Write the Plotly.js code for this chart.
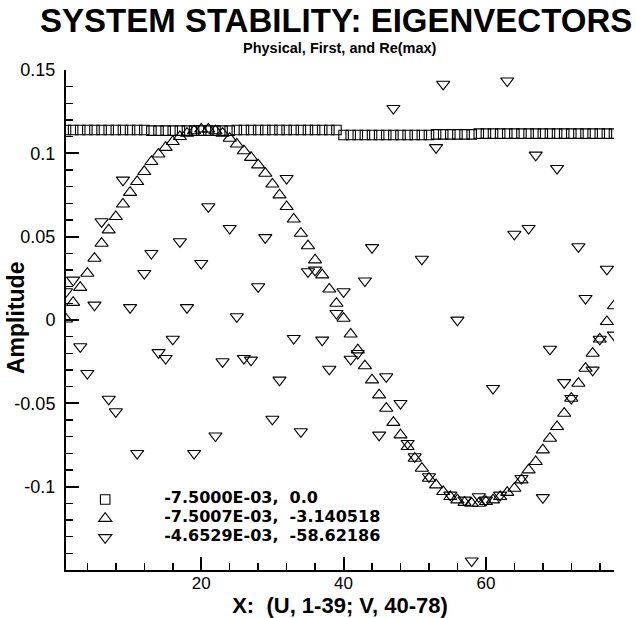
<!DOCTYPE html>
<html>
<head>
<meta charset="utf-8">
<script src="https://cdn.plot.ly/plotly-3.0.1.min.js"></script>
<style>html,body{margin:0;padding:0;background:#fff;}</style>
</head>
<body>
<div id="chart" style="width:636px;height:618px;"></div>
<script>
// X positions (U: 1-39, V: 40-78)
const xIndex = [1,2,3,4,5,6,7,8,9,10,11,12,13,14,15,16,17,18,19,20,21,22,23,24,25,26,27,28,29,30,31,32,33,34,35,36,37,38,39,
                40,41,42,43,44,45,46,47,48,49,50,51,52,53,54,55,56,57,58,59,60,61,62,63,64,65,66,67,68,69,70,71,72,73,74,75,76,77,78];

// Series 1: squares ("-7.5000E-03,  0.0")
const physical = [0.1140,0.1140,0.1140,0.1140,0.1140,0.1140,0.1140,0.1140,0.1140,0.1140,0.1140,0.1140,
                  0.1136,0.1136,0.1136,0.1136,0.1136,0.1136,0.1136,0.1136,0.1136,0.1136,0.1136,0.1136,
                  0.1140,0.1140,0.1140,0.1140,0.1140,0.1140,0.1140,0.1140,0.1140,0.1140,0.1140,0.1140,0.1140,0.1140,0.1140,
                  0.1110,0.1110,0.1110,0.1110,0.1110,0.1110,0.1110,0.1110,0.1110,0.1110,0.1110,0.1110,0.1110,
                  0.1114,0.1114,0.1114,0.1114,0.1114,0.1114,
                  0.1118,0.1118,0.1118,0.1118,0.1118,0.1118,0.1118,0.1118,0.1118,0.1118,0.1118,0.1118,0.1118,0.1118,0.1118,0.1118,0.1118,0.1118,0.1118,0.1118];

// Series 2: up triangles ("-7.5007E-03,  -3.140518")
const first = [0.0005,0.0105,0.0195,0.028,0.037,0.046,0.054,0.062,0.0695,0.0765,
               0.083,0.089,0.095,0.0995,0.1035,0.107,0.110,0.112,0.1135,0.1145,
               0.1145,0.1135,0.112,0.109,0.1055,0.1015,0.0975,0.093,0.088,0.0815,
               0.075,0.068,0.0605,0.052,0.0445,0.036,0.027,0.0185,0.010,0.001,
               -0.0085,-0.018,-0.0275,-0.036,-0.045,-0.053,-0.0615,-0.069,-0.076,-0.083,
               -0.089,-0.095,-0.099,-0.103,-0.106,-0.108,-0.1095,-0.110,-0.110,-0.109,
               -0.108,-0.106,-0.1035,-0.101,-0.096,-0.090,-0.085,-0.078,-0.071,-0.064,
               -0.056,-0.047,-0.038,-0.029,-0.020,-0.0115,-0.001,0.0085];

// Series 3: down triangles ("-4.6529E-03,  -58.62186")
const reMax = [0.017,0.024,-0.016,-0.032,0.009,0.059,-0.0475,-0.055,0.084,0.0075,
               -0.080,0.028,0.040,-0.0195,-0.023,-0.0115,0.047,0.0075,-0.080,0.034,
               0.068,-0.0695,-0.025,0.055,0.002,-0.023,-0.024,0.020,0.0495,-0.0595,
               -0.036,0.085,-0.011,-0.067,0.029,0.030,-0.012,-0.0295,0.004,0.017,
               -0.0235,-0.020,0.0235,0.0435,-0.069,-0.034,0.127,-0.050,-0.074,-0.082,
               0.0365,-0.094,0.1035,0.1415,-0.105,0.000,-0.108,-0.1445,-0.106,-0.108,
               -0.041,-0.105,0.1435,0.0515,-0.095,0.055,0.099,-0.1065,-0.0175,0.091,
               -0.0375,-0.047,0.044,0.013,-0.030,-0.0115,0.0305,-0.009];

const seriesNames = ["-7.5000E-03,\u00A0\u00A00.0", "-7.5007E-03,\u00A0\u00A0-3.140518", "-4.6529E-03,\u00A0\u00A0-58.62186"];
const yTickVals = [-0.1, -0.05, 0, 0.05, 0.1, 0.15];
const yTickText = ["-0.1", "-0.05", "0", "0.05", "0.1", "0.15"];
const xTickVals = [20, 40, 60];
const xTickText = ["20", "40", "60"];

const pad = "\u00A0\u00A0\u00A0\u00A0\u00A0\u00A0\u00A0";
function legName(s) { return "<b><span style='font-size:16px'>" + pad + s + "</span></b>"; }

const mk = (symbol, size) => ({symbol: symbol, size: size, color: "#000", line: {color: "#000", width: 1.1}});

const traces = [
  {x: xIndex, y: physical, type: "scatter", mode: "markers", name: legName(seriesNames[0]), marker: mk("square-open", 9.5)},
  {x: xIndex, y: first, type: "scatter", mode: "markers", name: legName(seriesNames[1]), marker: mk("triangle-up-open", 11.5)},
  {x: xIndex, y: reMax, type: "scatter", mode: "markers", name: legName(seriesNames[2]), marker: mk("triangle-down-open", 11.5)}
];

const layout = {
  width: 636, height: 618,
  margin: {l: 66, r: 22, t: 70, b: 48},
  paper_bgcolor: "#fff", plot_bgcolor: "#fff",
  font: {family: "Liberation Sans, Arial, sans-serif", color: "#000"},
  title: {
    text: "SYSTEM STABILITY: EIGENVECTORS",
    font: {family: "Liberation Sans, Arial, sans-serif", size: 33, weight: "bold", color: "#000"},
    xref: "paper", x: 0.493, xanchor: "center",
    yref: "container", y: 1 - 20 / 618, yanchor: "middle"
  },
  showlegend: true,
  legend: {
    x: 0.035, xanchor: "left", y: 0.17, yanchor: "top",
    bgcolor: "rgba(0,0,0,0)", borderwidth: 0,
    font: {family: "DejaVu Sans, sans-serif", size: 9, color: "#000"}
  },
  xaxis: {
    range: [1, 78],
    showline: true, linecolor: "#000", linewidth: 2,
    showgrid: false, zeroline: false, mirror: false,
    ticks: "inside", ticklen: 13, tickwidth: 2, tickcolor: "#000",
    tickmode: "array", tickvals: xTickVals, ticktext: xTickText,
    tickfont: {family: "Liberation Sans, Arial, sans-serif", size: 17, color: "#000"},
    ticklabelstandoff: -3,
    minor: {ticks: "inside", ticklen: 7, tickwidth: 1.5, tickcolor: "#000", dtick: 4, tick0: 0, showgrid: false},
    title: {text: "X:\u00A0\u00A0(U, 1-39; V, 40-78)", font: {family: "Liberation Sans, Arial, sans-serif", size: 22, weight: "bold", color: "#000"}, standoff: 1}
  },
  yaxis: {
    range: [-0.15, 0.15],
    showline: true, linecolor: "#000", linewidth: 2,
    showgrid: false, zeroline: false, mirror: false,
    ticks: "inside", ticklen: 13, tickwidth: 2, tickcolor: "#000",
    tickmode: "array", tickvals: yTickVals, ticktext: yTickText,
    tickfont: {family: "Liberation Sans, Arial, sans-serif", size: 18, color: "#000"},
    ticklabelstandoff: 5,
    minor: {ticks: "inside", ticklen: 7, tickwidth: 1.5, tickcolor: "#000", dtick: 0.01, tick0: 0, showgrid: false}
  },
  annotations: [
    {text: "Physical, First, and Re(max)", xref: "paper", yref: "paper", x: 0.5, y: (570 - 48) / 500,
     xanchor: "center", yanchor: "middle", showarrow: false,
     font: {family: "Liberation Sans, Arial, sans-serif", size: 14.5, weight: "bold", color: "#000"}},
    {text: "Amplitude", xref: "paper", yref: "paper", x: (16 - 66) / 548, y: (570 - 318) / 500,
     xanchor: "center", yanchor: "middle", textangle: -90, showarrow: false,
     font: {family: "Liberation Sans, Arial, sans-serif", size: 23, weight: "bold", color: "#000"}}
  ]
};

Plotly.newPlot("chart", traces, layout, {displayModeBar: false, staticPlot: true});
</script>
</body>
</html>
